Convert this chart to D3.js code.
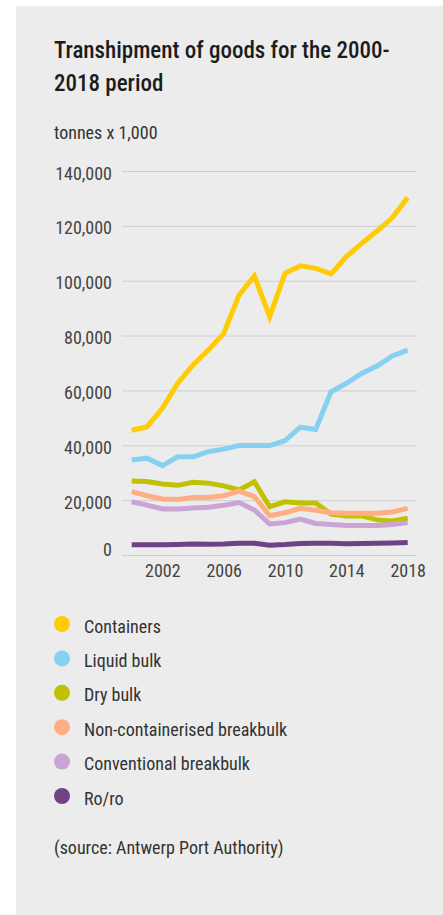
<!DOCTYPE html>
<html>
<head>
<meta charset="utf-8">
<script src="https://cdn.jsdelivr.net/npm/d3@7"></script>
<style>
  html, body { margin: 0; padding: 0; background: #fff; }
  svg { display: block; font-family: "Roboto Condensed", Roboto, sans-serif; }
</style>
</head>
<body>
<div id="chart"></div>
<script>
const years = d3.range(2000, 2019);
const containers = [45500, 46800, 53500, 62600, 69300, 74700, 80800, 94800, 101700, 86900, 102700, 105400, 104500, 102500, 108800, 113600, 118100, 123000, 130300];
const liquidBulk = [34600, 35300, 32600, 35800, 35800, 37700, 38600, 39900, 39900, 39900, 41700, 46600, 45800, 59500, 62600, 66200, 68900, 72600, 74700];
const dryBulk = [27000, 26800, 25900, 25400, 26500, 26200, 25200, 23700, 26700, 17600, 19400, 19000, 19000, 14900, 14200, 14300, 12800, 12400, 13400];
const nonContBreakbulk = [23100, 21600, 20400, 20200, 21000, 21000, 21600, 23300, 21300, 14300, 15400, 17000, 16300, 15400, 15200, 15200, 15200, 15700, 17000];
const convBreakbulk = [19400, 18200, 16800, 16800, 17100, 17400, 18100, 19100, 16400, 11300, 11800, 13100, 11500, 11100, 10800, 10800, 10800, 11100, 11800];
const roro = [3700, 3700, 3700, 3800, 4000, 3900, 4000, 4300, 4300, 3600, 3800, 4200, 4300, 4300, 4100, 4200, 4300, 4400, 4600];

const seriesNames = ["Containers", "Liquid bulk", "Dry bulk", "Non-containerised breakbulk", "Conventional breakbulk", "Ro/ro"];
const seriesValues = [containers, liquidBulk, dryBulk, nonContBreakbulk, convBreakbulk, roro];
const seriesColors = ["#ffcb05", "#86d0f2", "#bfc200", "#ffad82", "#caa4d5", "#6f4185"];
const yTicks = [0, 20000, 40000, 60000, 80000, 100000, 120000, 140000];
const xTicks = [2002, 2006, 2010, 2014, 2018];

const W = 443, H = 915;

const svg = d3.select("#chart").append("svg")
  .attr("width", W)
  .attr("height", H);

svg.append("rect")
  .attr("x", 16).attr("y", 6)
  .attr("width", W - 16).attr("height", H - 6)
  .attr("fill", "#ececec");

// title + unit
const title = svg.append("text")
  .attr("x", 54).attr("y", 58)
  .attr("font-size", 23).attr("font-weight", 500)
  .attr("fill", "#1c1c1c");
title.append("tspan").attr("x", 54).text("Transhipment of goods for the 2000-");
title.append("tspan").attr("x", 54).attr("y", 91).text("2018 period");

svg.append("text")
  .attr("x", 54).attr("y", 139)
  .attr("font-size", 18).attr("fill", "#333")
  .text("tonnes x 1,000");

const x = d3.scaleLinear().domain([2000, 2018]).range([131.7, 407.7]);
const y = d3.scaleLinear().domain([0, 140000]).range([555, 171]);
const gridLeft = 122, gridRight = 417;

// y axis with gridlines
const yAxis = svg.append("g")
  .attr("transform", `translate(${gridRight},0)`)
  .call(d3.axisLeft(y).tickValues(yTicks).tickSize(gridRight - gridLeft).tickPadding(10)
    .tickFormat(d3.format(",")));
yAxis.select(".domain").remove();
yAxis.selectAll(".tick line").attr("stroke", "#cfcfcf").attr("stroke-width", 1);
yAxis.selectAll(".tick text")
  .attr("font-size", 18).attr("fill", "#444")
  .attr("font-family", "'Roboto Condensed', Roboto, sans-serif")
  .attr("dy", d => d === 0 ? "0em" : "0.45em");

// x axis
const xAxis = svg.append("g")
  .attr("transform", `translate(0,${y(0)})`)
  .call(d3.axisBottom(x).tickValues(xTicks).tickSize(0).tickPadding(9).tickFormat(d3.format("d")));
xAxis.select(".domain").remove();
xAxis.selectAll(".tick text")
  .attr("font-size", 18).attr("fill", "#444")
  .attr("font-family", "'Roboto Condensed', Roboto, sans-serif");

// lines
const line = d3.line()
  .x((d, i) => x(years[i]))
  .y(d => y(d));

svg.append("g")
  .selectAll("path")
  .data(seriesValues)
  .join("path")
  .attr("d", line)
  .attr("fill", "none")
  .attr("stroke", (d, i) => seriesColors[i])
  .attr("stroke-width", 5)
  .attr("stroke-linejoin", "miter");

// legend
const legend = svg.append("g")
  .selectAll("g")
  .data(seriesNames)
  .join("g")
  .attr("transform", (d, i) => `translate(62,${624 + i * 34.4})`);

legend.append("circle")
  .attr("r", 8)
  .attr("fill", (d, i) => seriesColors[i]);

legend.append("text")
  .attr("x", 22).attr("y", 8.5)
  .attr("font-size", 18).attr("fill", "#333")
  .text(d => d);

svg.append("text")
  .attr("x", 54).attr("y", 854)
  .attr("font-size", 18).attr("fill", "#333")
  .text("(source: Antwerp Port Authority)");
</script>
</body>
</html>
